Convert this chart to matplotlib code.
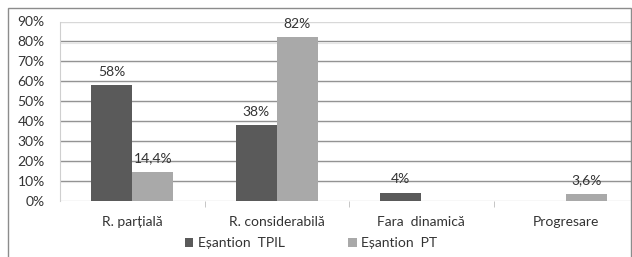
import matplotlib
matplotlib.use("Agg")
import matplotlib.pyplot as plt
from matplotlib.patches import Rectangle

plt.rcParams['font.family'] = ['Lato', 'DejaVu Sans']

categories = ["R. parțială", "R. considerabilă", "Fara  dinamică", "Progresare"]
series_names = ["Eșantion  TPIL", "Eșantion  PT"]
tpil = [58, 38, 4, 0]
pt = [14.4, 82, 0, 3.6]
tpil_labels = ["58%", "38%", "4%", None]
pt_labels = ["14,4%", "82%", None, "3,6%"]
yticks = [0, 10, 20, 30, 40, 50, 60, 70, 80, 90]

c_tpil = "#5a5a5a"
c_pt = "#a9a9a9"
txt = "#333333"
fs = 10

fig = plt.figure(figsize=(6.32, 2.57), dpi=100)
# outer frame
fig.patches.append(Rectangle((8/632, -0.1), (631-8)/632, (257-8)/257 + 0.1,
                             transform=fig.transFigure, fill=False,
                             edgecolor="#8c8c8c", lw=1.0))

ax = fig.add_axes([60/632, (257-201)/257, (638-60)/632, (201-21.5)/257])
x = list(range(len(categories)))
w = 0.285
ax.bar([i - w/2 for i in x], tpil, width=w, color=c_tpil, zorder=3, label=series_names[0])
ax.bar([i + w/2 for i in x], pt, width=w, color=c_pt, zorder=3, label=series_names[1])

for i, (v, l) in enumerate(zip(tpil, tpil_labels)):
    if l:
        ax.annotate(l, (i - w/2, v), xytext=(0, 5.5), textcoords="offset points",
                    ha="center", va="bottom", fontsize=fs, color=txt, zorder=4)
for i, (v, l) in enumerate(zip(pt, pt_labels)):
    if l:
        ax.annotate(l, (i + w/2, v), xytext=(0, 5.5), textcoords="offset points",
                    ha="center", va="bottom", fontsize=fs, color=txt, zorder=4)

ax.set_xlim(-0.5, len(categories) - 0.5)
ax.set_ylim(0, 90)
ax.set_yticks(yticks)
ax.set_yticklabels([f"{t}%" for t in yticks], fontsize=fs, color=txt)
for t in yticks:
    col = "#d8d8d8" if t in (0, 90) else "#8f8f8f"
    ax.axhline(t, color=col, lw=1.0, zorder=1)
    if t not in (0, 90):
        ax.axhline(t - 0.55, color="#e6e6e6", lw=0.8, zorder=1)

ax.tick_params(axis="y", length=0, pad=11)
ax.set_xticks(x)
ax.set_xticklabels(categories, fontsize=fs, color=txt)
ax.tick_params(axis="x", length=0, pad=11)
ax.set_xticks([0.5, 1.5, 2.5], minor=True)
ax.tick_params(axis="x", which="minor", length=4, color="#bdbdbd", direction="out")
for s in ["top", "right", "bottom"]:
    ax.spines[s].set_visible(False)
ax.spines["left"].set_color("#cfcfcf")
ax.set_facecolor("none")

fig.legend(loc="center", bbox_to_anchor=(311/632, (257-243)/257), ncol=2,
           frameon=False, fontsize=fs, handlelength=0.6, handleheight=0.6,
           handletextpad=0.3, columnspacing=4.6, labelcolor=txt)

fig.savefig("out.png", dpi=100)
